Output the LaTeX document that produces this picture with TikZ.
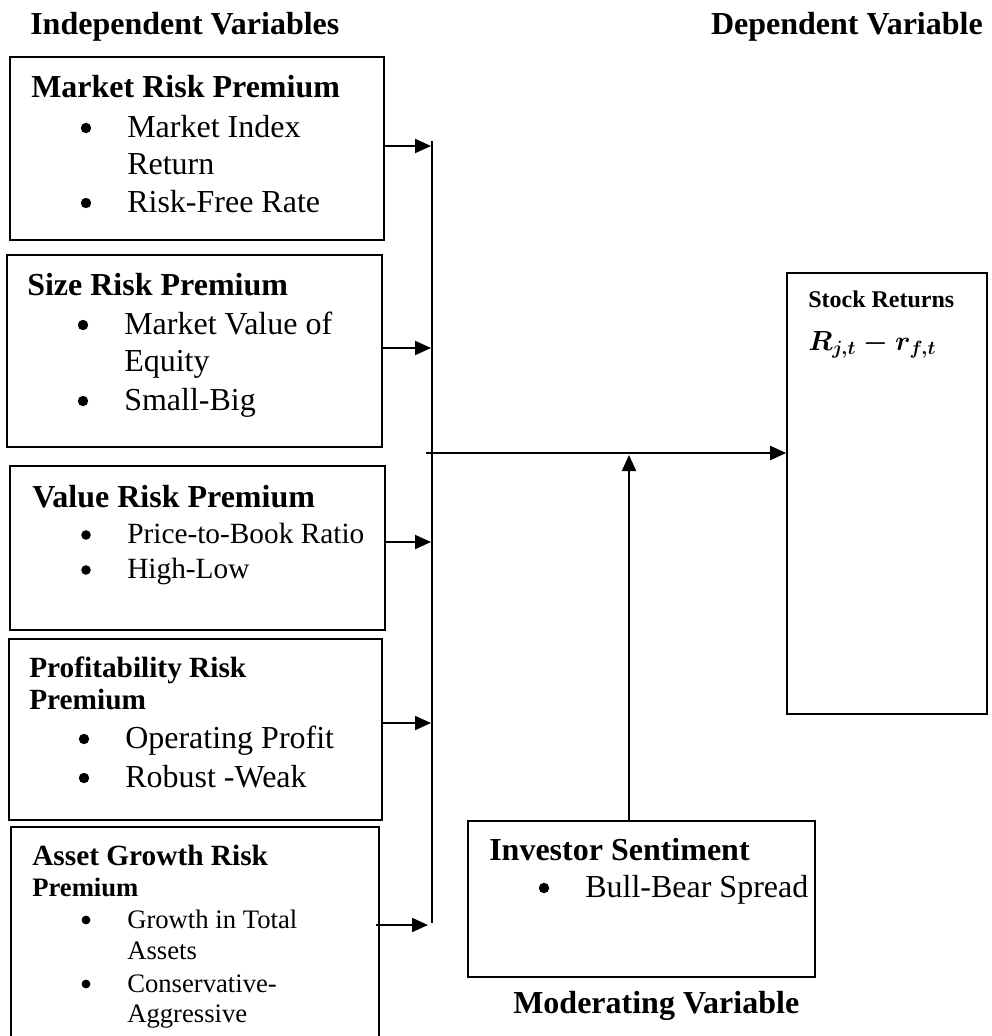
\documentclass[tikz,border=0pt]{standalone}
\usepackage{fontspec}
\setmainfont{Liberation Serif}
\usetikzlibrary{arrows.meta,fit}
\begin{document}
\begin{tikzpicture}[x=0.75pt,y=-0.75pt,
  box/.style={draw,line width=1.2pt,inner sep=0pt},
  conn/.style={line width=1.5pt},
  arr/.style={line width=1.5pt,-{Triangle[length=12pt,width=10.5pt]}},
  tx/.style={inner sep=0pt,anchor=base west},
  dot/.style={circle,fill,draw=none,inner sep=0pt,minimum size=7.8pt},
  dots/.style={circle,fill,draw=none,inner sep=0pt,minimum size=7.2pt},
  dotx/.style={circle,fill,draw=none,inner sep=0pt,minimum size=6.6pt},
  Hb/.style={font=\fontsize{24}{28}\selectfont\bfseries},
  Hbs/.style={font=\fontsize{22}{26}\selectfont\bfseries},
  Hbx/.style={font=\fontsize{20}{24}\selectfont\bfseries},
  Hbt/.style={font=\fontsize{18}{22}\selectfont\bfseries},
  Mt/.style={font=\fontsize{20.5}{24}\selectfont\boldmath},
  T/.style={font=\fontsize{24}{28}\selectfont},
  Ts/.style={font=\fontsize{22}{26}\selectfont},
  Tx/.style={font=\fontsize{20}{24}\selectfont}]
\path[use as bounding box] (0,0) rectangle (992,1036);
\clip (0,0) rectangle (992,1036);

% column titles
\node[tx,Hb] (indep) at (30,34) {Independent Variables};
\node[inner sep=0pt,anchor=base east,Hb] (dep) at (983,34) {Dependent Variable};

% box 1
\node[box,fit={(10,57) (384,240)}] (b1) {};
\node[tx,Hb] (b1h) at (31,97) {Market Risk Premium};
\node[dot] (b1p1) at (86,128) {};
\node[tx,T] (b1t1) at (127,137) {Market Index};
\node[tx,T] (b1t2) at (127,174) {Return};
\node[dot] (b1p2) at (86,203) {};
\node[tx,T] (b1t3) at (127,212) {Risk-Free Rate};

% box 2
\node[box,fit={(7,255) (382,447)}] (b2) {};
\node[tx,Hb] (b2h) at (27,295) {Size Risk Premium};
\node[dot] (b2p1) at (83,325) {};
\node[tx,T] (b2t1) at (124,334) {Market Value of};
\node[tx,T] (b2t2) at (124,371) {Equity};
\node[dot] (b2p2) at (83,401) {};
\node[tx,T] (b2t3) at (124,410) {Small-Big};

% box 3
\node[box,fit={(10,466) (385,630)}] (b3) {};
\node[tx,Hb] (b3h) at (32,507) {Value Risk Premium};
\node[dots] (b3p1) at (86,535) {};
\node[tx,Ts] (b3t1) at (127,543) {Price-to-Book Ratio};
\node[dots] (b3p2) at (86,570) {};
\node[tx,Ts] (b3t2) at (127,578) {High-Low};

% box 4
\node[box,fit={(9,639) (382,820)}] (b4) {};
\node[tx,Hbs] (b4h1) at (29,677) {Profitability Risk};
\node[tx,Hbs] (b4h2) at (29,709) {Premium};
\node[dot] (b4p1) at (84,739) {};
\node[tx,T] (b4t1) at (125,748) {Operating Profit};
\node[dot] (b4p2) at (84,778) {};
\node[tx,T] (b4t2) at (125,787) {Robust -Weak};

% box 5
\node[box,fit={(11,827) (379,1050)}] (b5) {};
\node[tx,Hbs] (b5h1) at (32,865) {Asset Growth Risk};
\node[tx,Hbx] (b5h2) at (32,896) {Premium};
\node[dotx] (b5p1) at (86,920) {};
\node[tx,Tx] (b5t1) at (127,928) {Growth in Total};
\node[tx,Tx] (b5t2) at (127,959) {Assets};
\node[dotx] (b5p2) at (86,984) {};
\node[tx,Tx] (b5t3) at (127,992) {Conservative-};
\node[tx,Tx] (b5t4) at (127,1022) {Aggressive};

% dependent box
\node[box,fit={(787,273) (987,714)}] (stock) {};
\node[tx,Hbt] (stockh) at (808,307) {Stock Returns};
\node[tx,Mt] (stockm) at (808,350) {$R_{j,t} - r_{f,t}$};

% moderating box
\node[box,fit={(468,821) (815,977)}] (inv) {};
\node[tx,Hb] (invh) at (489,860) {Investor Sentiment};
\node[dot] (invp) at (544,888) {};
\node[tx,T] (invt) at (585,897) {Bull-Bear Spread};
\node[tx,Hb] (mod) at (513,1013) {Moderating Variable};

% bus
\coordinate (bt) at (432,141);
\coordinate (bb) at (432,923);
\draw[conn] (bt) -- (bb);
\coordinate (e1) at (431,146);
\coordinate (e2) at (431,348);
\coordinate (e3) at (431,542);
\coordinate (e4) at (431,723);
\coordinate (s5) at (376,925);
\coordinate (e5) at (428,925);
\draw[arr] (b1.east |- e1) -- (e1);
\draw[arr] (b2.east |- e2) -- (e2);
\draw[arr] (b3.east |- e3) -- (e3);
\draw[arr] (b4.east |- e4) -- (e4);
\draw[arr] (s5) -- (e5);

\coordinate (hs) at (426,453);
\draw[arr] (hs) -- (stock.west |- hs);
\coordinate (up) at (629,455);
\draw[arr] (inv.north -| up) -- (up);
\end{tikzpicture}
\end{document}
